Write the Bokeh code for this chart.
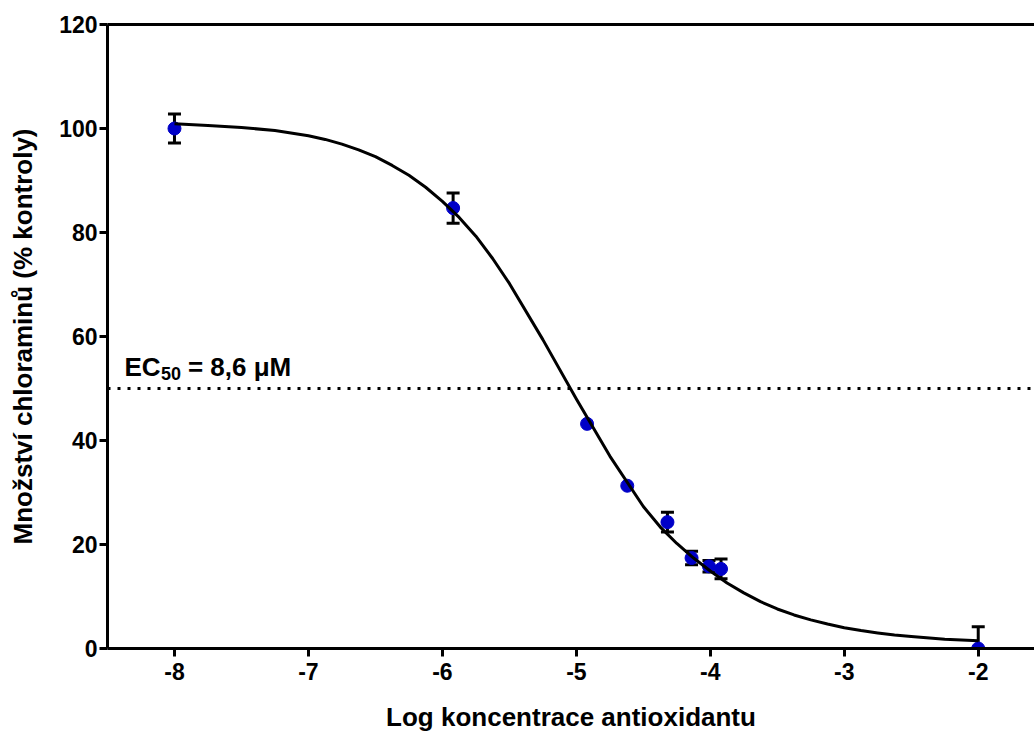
from bokeh.plotting import figure
from bokeh.models import (Range1d, LinearAxis, FixedTicker, Whisker, TeeHead,
                          Span, Label, ColumnDataSource)
from bokeh.embed import file_html
from bokeh.resources import INLINE

# ---- data ----
log_conc = [-8.0, -5.92, -4.92, -4.62, -4.32, -4.14, -4.01, -3.92, -2.0]
chloramine_pct = [100.0, 84.7, 43.2, 31.3, 24.3, 17.4, 15.8, 15.3, 0.0]
sem = [2.8, 2.9, 0.0, 0.0, 1.9, 1.3, 1.1, 1.9, 4.2]

fit_x = [-8.0, -7.75, -7.5, -7.25, -7.0, -6.875, -6.75, -6.625, -6.5, -6.375,
         -6.25, -6.125, -6.0, -5.875, -5.75, -5.625, -5.5, -5.25, -5.0, -4.75,
         -4.5, -4.375, -4.25, -4.125, -4.0, -3.875, -3.75, -3.625, -3.5,
         -3.375, -3.25, -3.125, -3.0, -2.875, -2.75, -2.625, -2.5, -2.25, -2.0]
fit_y = [100.9, 100.6, 100.2, 99.6, 98.6, 97.9, 97.0, 95.9, 94.6, 92.9,
         91.0, 88.7, 86.0, 82.9, 79.3, 75.0, 70.2, 59.4, 48.0, 37.0,
         27.3, 23.4, 20.2, 17.4, 14.9, 12.6, 10.7, 9.0, 7.6,
         6.45, 5.5, 4.7, 4.0, 3.45, 3.0, 2.6, 2.3, 1.8, 1.5]

x_ticks = [-8, -7, -6, -5, -4, -3, -2]
x_tick_labels = ["-8", "-7", "-6", "-5", "-4", "-3", "-2"]
y_ticks = [0, 20, 40, 60, 80, 100, 120]
y_tick_labels = ["0", "20", "40", "60", "80", "100", "120"]

ec50_level = 50
x_title = "Log koncentrace antioxidantu"
y_title = "Množství chloraminů (% kontroly)"

FONT = "Liberation Sans"
BLUE = "#0000c8"

p = figure(width=1034, height=735,
           x_range=Range1d(-8.5, -1.58), y_range=Range1d(0, 120),
           output_backend="svg", toolbar_location=None,
           min_border_left=107, min_border_right=0,
           min_border_top=24, min_border_bottom=87,
           outline_line_color=None, background_fill_color="white",
           border_fill_color="white")
p.xgrid.visible = False
p.ygrid.visible = False

for ax, ticks, labels in ((p.xaxis[0], x_ticks, x_tick_labels),
                          (p.yaxis[0], y_ticks, y_tick_labels)):
    ax.ticker = FixedTicker(ticks=ticks)
    ax.major_label_overrides = {t: l for t, l in zip(ticks, labels)}
    ax.axis_line_width = 3
    ax.axis_line_color = "black"
    ax.major_tick_line_width = 3
    ax.major_tick_line_color = "black"
    ax.major_tick_in = 0
    ax.major_tick_out = 8
    ax.minor_tick_line_color = None
    ax.major_label_text_font = FONT
    ax.major_label_text_font_style = "bold"
    ax.major_label_text_font_size = "23px"
    ax.major_label_text_color = "black"
    ax.axis_label_text_font = FONT
    ax.axis_label_text_font_style = "bold"
    ax.axis_label_text_font_size = "26px"
    ax.axis_label_text_color = "black"

p.xaxis[0].major_label_standoff = 6
p.xaxis[0].axis_label = x_title
p.xaxis[0].axis_label_standoff = 19
p.yaxis[0].major_label_standoff = 2
p.yaxis[0].axis_label = y_title
p.yaxis[0].axis_label_standoff = 18

top_axis = LinearAxis(ticker=FixedTicker(ticks=[]), axis_line_width=3,
                      axis_line_color="black", major_tick_line_color=None,
                      minor_tick_line_color=None, major_tick_in=0,
                      major_tick_out=0, major_label_standoff=0,
                      major_label_text_font_size="0px")
p.add_layout(top_axis, "above")

# dotted EC50 line
p.add_layout(Span(location=ec50_level, dimension="width", line_color="black",
                  line_width=3, line_dash="3 7"))

# error bars
ex, eu, el = [], [], []
for x, y, e in zip(log_conc, chloramine_pct, sem):
    if e > 0:
        ex.append(x)
        eu.append(y + e)
        el.append(max(y - e, 0))
err_src = ColumnDataSource(dict(x=ex, upper=eu, lower=el))
p.add_layout(Whisker(source=err_src, base="x", upper="upper", lower="lower",
                     line_width=3, line_color="black",
                     upper_head=TeeHead(size=13, line_width=3, line_color="black"),
                     lower_head=TeeHead(size=13, line_width=3, line_color="black")))

p.scatter(log_conc, chloramine_pct, size=13, fill_color=BLUE, line_color=BLUE)
p.line(fit_x, fit_y, line_width=3, line_color="black", line_join="round")

# EC50 annotation (EC with subscript 50)
ec_y = 54.1
p.add_layout(Label(x=-8.373, y=ec_y, text="EC", text_font=FONT,
                   text_font_style="bold", text_font_size="26px",
                   text_color="black", text_baseline="alphabetic"))
p.add_layout(Label(x=-8.1, y=ec_y - 1.15, text="50", text_font=FONT,
                   text_font_style="bold", text_font_size="18px",
                   text_color="black", text_baseline="alphabetic"))
p.add_layout(Label(x=-7.9, y=ec_y, text="= 8,6 μM", text_font=FONT,
                   text_font_style="bold", text_font_size="26px",
                   text_color="black", text_baseline="alphabetic"))

open("out.html", "w").write(file_html(p, INLINE))
